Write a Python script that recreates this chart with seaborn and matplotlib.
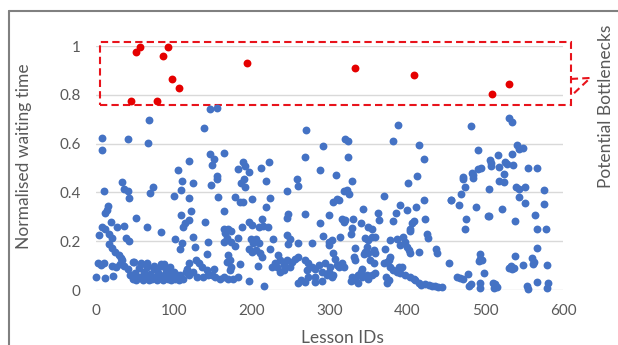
import matplotlib
matplotlib.use("Agg")
import matplotlib.pyplot as plt
from matplotlib.patches import Rectangle
from matplotlib.lines import Line2D
import seaborn as sns
import pandas as pd

# lesson IDs / normalised waiting time (regular lessons)
lesson_ids = [
    146, 156, 68, 139, 8, 41, 67, 8, 147, 149, 120, 105, 111, 124, 34, 36, 41, 10, 73, 70,
    109, 148, 43, 100, 120,
    270, 292, 268, 165, 151, 189, 192, 197, 182, 222, 212, 288, 156, 155, 190, 186, 192, 218,
    258, 260, 246, 157, 179, 201, 223,
    388, 320, 324, 382, 415, 324, 422, 308, 329, 412, 401, 318, 322, 325, 370, 309, 421, 456,
    530, 534, 482, 541, 549, 543, 491, 534, 517, 506, 507, 507, 526, 528, 518, 536, 555, 567,
    491, 495, 483, 484, 485, 472, 471, 524, 518, 524, 474, 505, 540, 543, 551, 575, 469, 543,
    15, 14, 12, 52, 109, 122, 120, 114, 112, 140, 19, 8, 12, 27, 36, 65, 4, 17, 20, 84, 39, 43,
    101, 111, 125, 127, 144, 142, 108, 17, 21, 25, 29, 32, 34, 2, 7, 10, 21, 26, 31, 36, 0, 11, 22,
    41, 44, 47, 50, 52, 55, 57, 60, 62, 64, 66, 68, 70, 72, 74, 76, 78, 80, 82, 84, 86, 88, 90,
    92, 94, 96, 98, 100, 102, 104, 106, 58, 66, 75, 95, 49, 88, 48, 58, 84, 78, 93,
    119, 128, 117, 125, 136, 143, 138, 130, 119, 149, 115, 132, 108, 112,
    185, 189, 219, 164, 247, 245, 269, 300, 288, 213, 196, 200, 209, 215, 221, 188, 164, 169,
    174, 166, 168, 164, 174, 178, 182, 199, 206, 202, 209, 228, 245, 249, 247, 260, 277, 292,
    299, 303, 196, 200, 206, 211, 213, 224,
    234, 237, 230, 226, 232, 241, 245, 252, 256, 249, 241, 237,
    170, 172, 168, 173, 172, 185, 208, 151,
    260, 269, 273, 277, 271, 282, 286, 294, 290, 297, 282, 273, 264, 269, 282, 290, 260, 301,
    144, 153, 159, 164, 170, 176, 183, 196, 216,
    305, 312, 456, 391, 400, 411, 343, 362, 363, 385, 316, 320, 318, 330, 423, 382, 408, 406,
    404, 404, 341, 349, 355, 329, 327, 425, 427, 314, 346, 350, 355, 359, 378, 387, 395, 397,
    299, 333, 348, 346, 344, 350, 357, 359, 371, 391, 400, 402, 404, 415, 437, 438, 305, 307,
    309, 312, 331, 333, 378, 376, 370, 374, 357, 352, 453, 318, 316,
    342, 340, 337, 342, 348, 350, 355, 359,
    378, 382, 389, 393, 387, 391, 397, 404, 408, 410, 372, 376, 374, 329, 327, 333, 337,
    415, 417, 423, 428, 432, 436, 440, 445, 299, 303, 305,
    466, 488, 475, 474, 503, 505, 521, 551, 575, 538, 564, 567, 578, 566, 493, 494, 492, 496,
    538, 560, 563, 561, 533, 531, 535, 537, 549, 579, 464, 468, 471, 478, 498, 479, 482, 494,
    494, 510, 513, 515, 511, 555, 554, 567, 579, 581,
]
wait_times = [
    0.741, 0.745, 0.697, 0.665, 0.624, 0.619, 0.601, 0.572, 0.556, 0.512, 0.529, 0.492, 0.448,
    0.440, 0.441, 0.414, 0.407, 0.407, 0.423, 0.399, 0.410, 0.430, 0.377, 0.385, 0.378,
    0.657, 0.589, 0.546, 0.563, 0.536, 0.526, 0.510, 0.485, 0.495, 0.526, 0.500, 0.492, 0.468,
    0.456, 0.455, 0.437, 0.423, 0.448, 0.454, 0.426, 0.407, 0.380, 0.380, 0.375, 0.378,
    0.675, 0.619, 0.609, 0.611, 0.593, 0.546, 0.537, 0.470, 0.445, 0.466, 0.440, 0.407, 0.410,
    0.392, 0.385, 0.372, 0.370, 0.368,
    0.706, 0.689, 0.671, 0.593, 0.581, 0.577, 0.572, 0.557, 0.552, 0.534, 0.519, 0.508, 0.526,
    0.515, 0.504, 0.512, 0.499, 0.499, 0.497, 0.499, 0.478, 0.460, 0.471, 0.465, 0.455, 0.477,
    0.447, 0.441, 0.422, 0.415, 0.421, 0.413, 0.421, 0.410, 0.393, 0.382,
    0.344, 0.328, 0.314, 0.296, 0.307, 0.325, 0.287, 0.273, 0.257, 0.277, 0.277, 0.257, 0.249,
    0.258, 0.263, 0.260, 0.225, 0.228, 0.214, 0.236, 0.212, 0.200, 0.208, 0.191, 0.218, 0.177,
    0.195, 0.148, 0.167, 0.187, 0.171, 0.154, 0.143, 0.132, 0.122, 0.109, 0.102, 0.112, 0.100,
    0.096, 0.105, 0.100, 0.055, 0.048, 0.057,
    0.085, 0.060, 0.045, 0.070, 0.040, 0.090, 0.055, 0.040, 0.075, 0.050, 0.095, 0.040, 0.065,
    0.045, 0.085, 0.055, 0.040, 0.070, 0.050, 0.100, 0.040, 0.060, 0.080, 0.045, 0.065, 0.040,
    0.055, 0.075, 0.045, 0.060, 0.040, 0.105, 0.110, 0.100, 0.095, 0.115, 0.105, 0.116, 0.109,
    0.105, 0.082, 0.086,
    0.109, 0.123, 0.088, 0.075, 0.095, 0.082, 0.054, 0.054, 0.061, 0.061, 0.075, 0.109, 0.061,
    0.047,
    0.359, 0.359, 0.341, 0.323, 0.310, 0.296, 0.313, 0.307, 0.273, 0.291, 0.280, 0.266, 0.259,
    0.263, 0.258, 0.259, 0.252, 0.252, 0.241, 0.232, 0.214, 0.198, 0.198, 0.181, 0.214, 0.207,
    0.209, 0.191, 0.194, 0.211, 0.225, 0.211, 0.187, 0.194, 0.194, 0.222, 0.198, 0.205, 0.170,
    0.157, 0.164, 0.150, 0.136, 0.170,
    0.143, 0.123, 0.109, 0.095, 0.095, 0.102, 0.123, 0.116, 0.129, 0.095, 0.082, 0.075,
    0.143, 0.123, 0.116, 0.095, 0.082, 0.105, 0.098, 0.088,
    0.136, 0.123, 0.109, 0.095, 0.082, 0.088, 0.102, 0.109, 0.075, 0.061, 0.054, 0.054, 0.041,
    0.034, 0.034, 0.037, 0.027, 0.095,
    0.061, 0.054, 0.047, 0.054, 0.047, 0.047, 0.054, 0.037, 0.016,
    0.362, 0.369, 0.368, 0.348, 0.328, 0.341, 0.334, 0.314, 0.287, 0.314, 0.293, 0.287, 0.280,
    0.293, 0.293, 0.282, 0.282, 0.273, 0.252, 0.241, 0.273, 0.259, 0.252, 0.255, 0.228, 0.228,
    0.214, 0.218, 0.214, 0.205, 0.218, 0.218, 0.205, 0.211, 0.218, 0.198, 0.184, 0.173, 0.177,
    0.157, 0.146, 0.150, 0.164, 0.150, 0.170, 0.184, 0.177, 0.164, 0.150, 0.154, 0.168, 0.150,
    0.150, 0.129, 0.102, 0.095, 0.136, 0.123, 0.136, 0.123, 0.109, 0.116, 0.109, 0.123, 0.112,
    0.095, 0.109,
    0.088, 0.072, 0.061, 0.054, 0.061, 0.047, 0.061, 0.068,
    0.095, 0.082, 0.095, 0.095, 0.072, 0.068, 0.061, 0.054, 0.047, 0.041, 0.054, 0.041, 0.027,
    0.054, 0.037, 0.041, 0.027,
    0.027, 0.020, 0.023, 0.020, 0.017, 0.017, 0.013, 0.013, 0.075, 0.054, 0.061,
    0.348, 0.341, 0.291, 0.250, 0.304, 0.304, 0.334, 0.355, 0.351, 0.282, 0.307, 0.250, 0.250,
    0.173, 0.146, 0.129, 0.120, 0.123, 0.140, 0.132, 0.116, 0.105, 0.098, 0.089, 0.086, 0.091,
    0.102, 0.102, 0.054, 0.050, 0.047, 0.064, 0.068, 0.017, 0.023, 0.027, 0.009, 0.027, 0.023,
    0.013, 0.009, 0.006, 0.017, 0.031, 0.009, 0.027,
]

# lessons flagged as potential bottlenecks
bottleneck_ids = [45, 52, 57, 78, 86, 93, 98, 107, 194, 333, 408, 509, 531]
bottleneck_times = [0.776, 0.974, 0.997, 0.776, 0.958, 0.997, 0.865, 0.826, 0.929, 0.911,
                    0.881, 0.803, 0.843]

x_ticks = [0, 100, 200, 300, 400, 500, 600]
y_ticks = [0, 0.2, 0.4, 0.6, 0.8, 1.0]
y_tick_labels = ["0", "0.2", "0.4", "0.6", "0.8", "1"]

df = pd.DataFrame({"lesson": lesson_ids, "wait": wait_times})
df_b = pd.DataFrame({"lesson": bottleneck_ids, "wait": bottleneck_times})

sns.set_theme(style="white")
plt.rcParams["font.family"] = ["Lato", "DejaVu Sans"]
text_col = "#595959"

fig = plt.figure(figsize=(6.18, 3.45), dpi=100)
ax = fig.add_axes([96 / 618, 1 - 290 / 345, 467 / 618, 244 / 345])

sns.scatterplot(data=df, x="lesson", y="wait", color="#4472C4", s=32, linewidth=0,
                ax=ax, clip_on=False, zorder=3)
sns.scatterplot(data=df_b, x="lesson", y="wait", color="#E50000", s=32, linewidth=0,
                ax=ax, clip_on=False, zorder=3)

ax.set_xlim(0, 600)
ax.set_ylim(0, 1)
ax.set_xticks(x_ticks)
ax.set_yticks(y_ticks)
ax.set_yticklabels(y_tick_labels)
ax.tick_params(axis="x", length=0, pad=10, labelsize=11, labelcolor=text_col)
ax.tick_params(axis="y", length=0, pad=11, labelsize=11, labelcolor=text_col)
ax.yaxis.grid(True, color="#D9D9D9", linewidth=1)
ax.xaxis.grid(False)
for sp in ax.spines.values():
    sp.set_visible(False)

ax.set_xlabel("Lesson IDs", fontsize=12.5, color=text_col)
ax.set_ylabel("Normalised waiting time", fontsize=12.5, color=text_col)
ax.xaxis.set_label_coords(0.527, -0.165)
ax.yaxis.set_label_coords(-0.137, 0.55)

# dashed box around the bottleneck lessons + callout pointer
red = "#E8131B"
box = Rectangle((5, 0.758), 605, 0.258, fill=False, edgecolor=red, linewidth=1.5,
                linestyle=(0, (3.5, 2)), clip_on=False, zorder=2)
ax.add_patch(box)
ax.add_line(Line2D([610, 635, 612], [0.865, 0.869, 0.800], color=red, linewidth=1.5,
                   linestyle=(0, (3.5, 2)), clip_on=False))

fig.text(606 / 618, 1 - 106 / 345, "Potential Bottlenecks", rotation=90, ha="center",
         va="center", fontsize=12.5, color=text_col)

# chart-area frame
fig.add_artist(Line2D([9 / 618, 9 / 618], [0, 1 - 11 / 345], color="#808080",
                      linewidth=1.5, transform=fig.transFigure))
fig.add_artist(Line2D([9 / 618, 1], [1 - 11 / 345, 1 - 11 / 345], color="#808080",
                      linewidth=1.5, transform=fig.transFigure))

fig.savefig("out.png", dpi=100)
